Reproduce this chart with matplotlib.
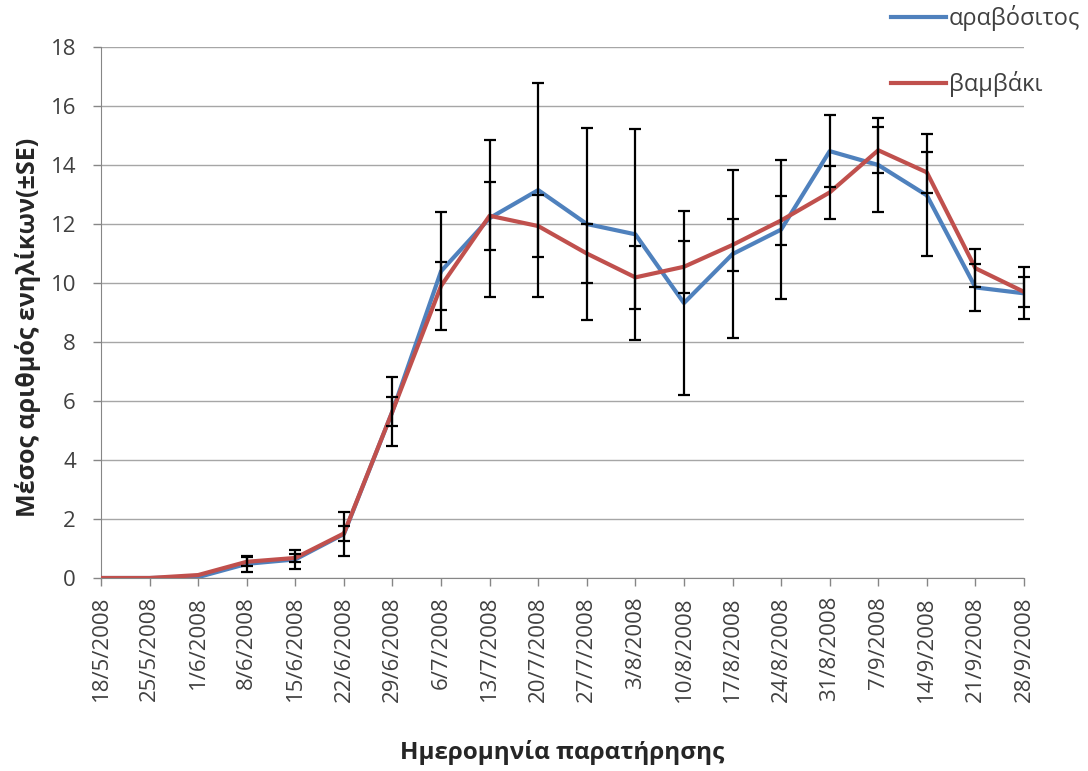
import numpy as np
import matplotlib
matplotlib.use("Agg")
import matplotlib.pyplot as plt

# --------------------------------
# Data
# --------------------------------

dates = ["18/5/2008", "25/5/2008", "1/6/2008", "8/6/2008", "15/6/2008",
         "22/6/2008", "29/6/2008", "6/7/2008", "13/7/2008", "20/7/2008",
         "27/7/2008", "3/8/2008", "10/8/2008", "17/8/2008", "24/8/2008",
         "31/8/2008", "7/9/2008", "14/9/2008", "21/9/2008", "28/9/2008"]

corn = [0, 0, 0.03, 0.48, 0.63, 1.49, 5.65, 10.4, 12.2, 13.15,
        12.0, 11.65, 9.32, 10.98, 11.81, 14.47, 14.0, 12.97, 9.85, 9.65]
corn_se = [0, 0, 0, 0.26, 0.32, 0.74, 1.18, 2.0, 2.66, 3.64,
           3.26, 3.58, 3.12, 2.86, 2.36, 1.21, 1.58, 2.07, 0.79, 0.88]

cotton = [0, 0, 0.1, 0.55, 0.68, 1.51, 5.65, 9.9, 12.28, 11.93,
          11.0, 10.19, 10.55, 11.29, 12.12, 13.07, 14.5, 13.75, 10.5, 9.7]
cotton_se = [0, 0, 0, 0.15, 0.15, 0.25, 0.49, 0.81, 1.16, 1.04,
             1.0, 1.07, 0.88, 0.88, 0.84, 0.91, 0.78, 0.69, 0.64, 0.5]

labels = ["αραβόσιτος", "βαμβάκι"]

# --------------------------------
# Plot
# --------------------------------

plt.rcParams["font.family"] = ["Open Sans", "DejaVu Sans"]

fig = plt.figure(figsize=(10.88, 7.71), dpi=100)
ax = fig.add_axes([101 / 1088, 1 - 578 / 771, (1024 - 101) / 1088, (578 - 47) / 771])

x = np.arange(len(dates))

ax.plot(x, corn, color="#4F81BD", lw=3, label=labels[0], zorder=3)
ax.plot(x, cotton, color="#C0504D", lw=3, label=labels[1], zorder=4)

for vals, se in [(corn, corn_se), (cotton, cotton_se)]:
    vals = np.array(vals)
    se = np.array(se)
    m = se > 0
    eb = ax.errorbar(x[m], vals[m], yerr=se[m], fmt="none", ecolor="black",
                     elinewidth=1.6, capsize=4, capthick=1.6, zorder=5)
    for art in eb.lines[1] + eb.lines[2]:
        art.set_clip_on(False)

ax.set_xlim(0, len(dates) - 1)
ax.set_ylim(0, 18)
ax.set_yticks(range(0, 19, 2))
ax.set_xticks(x)
ax.set_xticklabels(dates, rotation=90)

ax.grid(axis="y", color="#A6A6A6", lw=1)
ax.set_axisbelow(True)
for s in ["top", "right"]:
    ax.spines[s].set_visible(False)
for s in ["left", "bottom"]:
    ax.spines[s].set_color("#868686")
ax.tick_params(axis="both", colors="#868686", labelcolor="#404040",
               labelsize=16, length=6, width=1)
ax.tick_params(axis="x", pad=7)
ax.tick_params(axis="y", pad=12)

ax.set_ylabel("Μέσος αριθμός ενηλίκων(±SE)", fontsize=18, fontweight="bold",
              color="#262626")
ax.yaxis.set_label_coords(-0.065, 0.472)
ax.set_xlabel("Ημερομηνία παρατήρησης", fontsize=17.5, fontweight="bold",
              color="#262626")
ax.xaxis.set_label_coords(0.5, -0.305)

fig.legend(loc="upper left", bbox_to_anchor=(891 / 1088, 1 - 5 / 771),
           frameon=False, fontsize=17, handlelength=2.35, handletextpad=0.1,
           labelspacing=1.7, borderpad=0, borderaxespad=0, labelcolor="#404040")

plt.savefig("out.png", dpi=100)
